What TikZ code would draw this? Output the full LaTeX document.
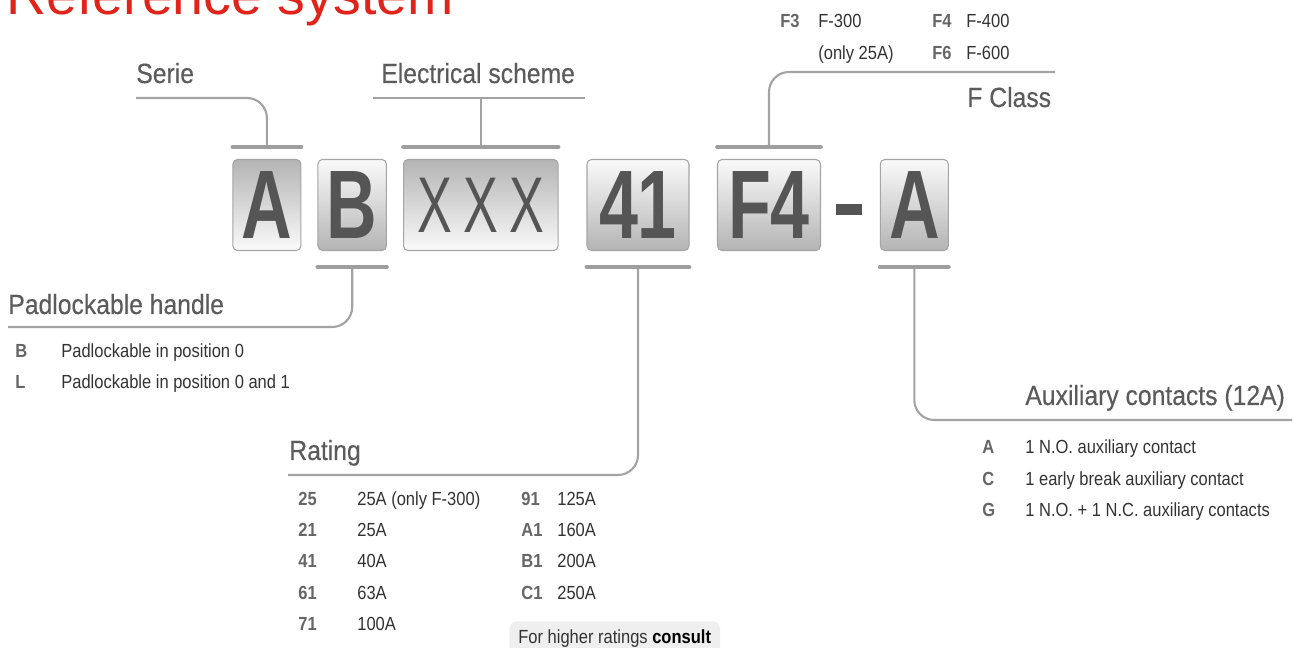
\documentclass[tikz,border=0pt]{standalone}
\usepackage{fontspec}
\setmainfont{Liberation Sans}
\newfontfamily\headfont[FakeStretch=0.89,FakeBold=0.35]{Liberation Sans}
\newfontfamily\bodyfont[FakeStretch=0.87]{Liberation Sans}
\newfontfamily\keyfont[FakeStretch=0.72]{Liberation Sans}
\newfontfamily\thinfont[FakeStretch=0.66]{Liberation Sans}
\usetikzlibrary{positioning, calc}
\definecolor{refred}{HTML}{E2231A}
\definecolor{headgray}{HTML}{5B5B5B}
\definecolor{codegray}{HTML}{666666}
\definecolor{txtdark}{HTML}{333333}
\definecolor{keygray}{HTML}{555555}
\definecolor{boxedge}{HTML}{A5A5A5}
\definecolor{keyshade}{HTML}{B4B4B4}
\definecolor{keylight}{HTML}{FAFAFA}
\definecolor{bargray}{HTML}{9E9E9E}
\definecolor{linkgray}{HTML}{A3A3A3}
\definecolor{notefill}{HTML}{EFEFEF}

\begin{document}
\begin{tikzpicture}[
    x=0.02cm, y=-0.02cm,
    title/.style={anchor=base west, inner sep=0pt, text=refred, font=\fontsize{31.6}{32}\selectfont},
    head/.style={anchor=base west, inner sep=0pt, text=headgray, font=\headfont\fontsize{15.8}{16}\selectfont},
    code/.style={anchor=base west, inner sep=0pt, text=codegray, font=\bodyfont\bfseries\fontsize{10.8}{11}\selectfont},
    desc/.style={anchor=base west, inner sep=0pt, text=txtdark, font=\bodyfont\fontsize{10.8}{11}\selectfont},
    note/.style={anchor=north west, fill=notefill, rounded corners=0.15cm, inner xsep=0.18cm, inner ysep=0pt, text height=0.44cm, text depth=0.3cm, text=txtdark, font=\bodyfont\fontsize{10.8}{11}\selectfont},
    key/.style={draw=boxedge, line width=0.6pt, rounded corners=0.09cm, minimum height=1.82cm, inner sep=0pt, outer sep=0pt, text=keygray, font=\keyfont\bfseries\fontsize{55.4}{56}\selectfont},
    keyup/.style={key, top color=keyshade, bottom color=keylight},
    keydown/.style={key, top color=keylight, bottom color=keyshade},
    thinkey/.style={font=\thinfont\fontsize{45}{46}\selectfont},
    bar/.style={line width=2.8pt, line cap=round, draw=bargray},
    link/.style={line width=1.2pt, draw=linkgray, rounded corners=0.4cm}
  ]
    \fill[white] (0,0) rectangle (1306,648);
    \useasboundingbox (0,0) rectangle (1306,648);

    \node[title] (refTitle) at (6,15) {Reference system};

    % code boxes
    \node[keyup, minimum width=1.36cm] (boxSerie) at (266.9,205) {A};
    \node[keydown, minimum width=1.37cm] (boxHandle) at (352.2,205) {B};
    \node[keyup, thinkey, minimum width=3.09cm] (boxScheme) at (480.8,205) {X\hspace{6.6pt}X\hspace{6.6pt}X};
    \node[keydown, minimum width=2.04cm] (boxRating) at (638,205) {41};
    \node[keydown, minimum width=2.06cm] (boxClass) at (769,205) {F4};
    \node[fill=keygray, inner sep=0pt, outer sep=0pt, minimum width=0.52cm, minimum height=0.22cm] (dash) at (849.2,209.5) {};
    \node[keydown, minimum width=1.36cm] (boxAux) at (914.3,205) {A};

    % headings
    \node[head] (serieHead) at (136,83) {Serie};
    \node[head] (schemeHead) at (381,83) {Electrical scheme};
    \node[head] (classHead) at (967,107) {F Class};
    \node[head] (handleHead) at (8,314) {Padlockable handle};
    \node[head] (ratingHead) at (289,460) {Rating};
    \node[head] (auxHead) at (1025,405) {Auxiliary contacts (12A)};

    \coordinate (serieEnd) at (136,98);
    \coordinate (schemeL) at (373,98);
    \coordinate (schemeR) at (585,98);
    \coordinate (classEnd) at (1055,72);
    \coordinate (handleEnd) at (8,327);
    \coordinate (ratingEnd) at (288,475);
    \coordinate (auxEnd) at (1292,420);

    \draw[link] ([yshift=0.25cm]boxSerie.north) |- (serieEnd);
    \draw[link] (schemeL) -- (schemeR);
    \draw[link] ([yshift=0.25cm]boxScheme.north) -- (boxScheme.north |- schemeL);
    \draw[link] ([yshift=0.25cm]boxClass.north) |- (classEnd);
    \draw[link] ([yshift=-0.33cm]boxHandle.south) |- (handleEnd);
    \draw[link] ([yshift=-0.33cm]boxRating.south) |- (ratingEnd);
    \draw[link] ([yshift=-0.33cm]boxAux.south) |- (auxEnd);

    \draw[bar] ([yshift=0.25cm]boxSerie.north west) -- ([yshift=0.25cm]boxSerie.north east);
    \draw[bar] ([yshift=0.25cm]boxScheme.north west) -- ([yshift=0.25cm]boxScheme.north east);
    \draw[bar] ([yshift=0.25cm]boxClass.north west) -- ([yshift=0.25cm]boxClass.north east);
    \draw[bar] ([yshift=-0.33cm]boxHandle.south west) -- ([yshift=-0.33cm]boxHandle.south east);
    \draw[bar] ([yshift=-0.33cm]boxRating.south west) -- ([yshift=-0.33cm]boxRating.south east);
    \draw[bar] ([yshift=-0.33cm]boxAux.south west) -- ([yshift=-0.33cm]boxAux.south east);

    % F class
    \node[code] (cF3) at (780,28) {F3};
    \node[desc] (dF3) at (818,28) {F-300};
    \node[desc] (dF3b) at (818,60) {(only 25A)};
    \node[code] (cF4) at (932,28) {F4};
    \node[desc] (dF4) at (966,28) {F-400};
    \node[code] (cF6) at (932,60) {F6};
    \node[desc] (dF6) at (966,60) {F-600};

    % padlockable handle
    \node[code] (cB) at (15,358) {B};
    \node[desc] (dB) at (61,358) {Padlockable in position 0};
    \node[code] (cL) at (15,389) {L};
    \node[desc] (dL) at (61,389) {Padlockable in position 0 and 1};

    % rating
    \node[code] (c25) at (298,506) {25};
    \node[desc] (d25) at (357,506) {25A (only F-300)};
    \node[code] (c21) at (298,537) {21};
    \node[desc] (d21) at (357,537) {25A};
    \node[code] (c41) at (298,568) {41};
    \node[desc] (d41) at (357,568) {40A};
    \node[code] (c61) at (298,600) {61};
    \node[desc] (d61) at (357,600) {63A};
    \node[code] (c71) at (298,631) {71};
    \node[desc] (d71) at (357,631) {100A};
    \node[code] (c91) at (521,506) {91};
    \node[desc] (d91) at (557,506) {125A};
    \node[code] (cA1) at (521,537) {A1};
    \node[desc] (dA1) at (557,537) {160A};
    \node[code] (cB1) at (521,568) {B1};
    \node[desc] (dB1) at (557,568) {200A};
    \node[code] (cC1) at (521,600) {C1};
    \node[desc] (dC1) at (557,600) {250A};
    \node[note] (more) at (509,621) {For higher ratings \textcolor{black}{\bfseries consult}};

    % auxiliary contacts
    \node[code] (cA) at (982,454) {A};
    \node[desc] (dA) at (1025,454) {1 N.O. auxiliary contact};
    \node[code] (cC) at (982,486) {C};
    \node[desc] (dC) at (1025,486) {1 early break auxiliary contact};
    \node[code] (cG) at (982,517) {G};
    \node[desc] (dG) at (1025,517) {1 N.O. + 1 N.C. auxiliary contacts};
  \end{tikzpicture}
\end{document}
